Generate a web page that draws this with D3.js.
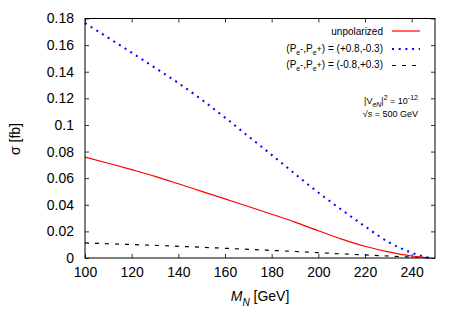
<!DOCTYPE html>
<html>
<head>
<meta charset="utf-8">
<script src="https://cdn.jsdelivr.net/npm/d3@7"></script>
<style>
  body { margin: 0; background: #fff; }
  text { font-family: "Liberation Sans", Arial, sans-serif; fill: #000; }
</style>
</head>
<body>
<div id="chart"></div>
<script>
const massValues = [100, 110, 120, 130, 140, 150, 160, 170, 180, 190, 200, 210, 220, 230, 240, 245, 248];
const unpolarized = [0.0758, 0.0712, 0.0664, 0.0614, 0.0558, 0.0501, 0.0444, 0.0387, 0.0329, 0.027, 0.0205, 0.0142, 0.0088, 0.0046, 0.0015, 0.0005, 0];
const polPlus = [0.1765, 0.1655, 0.1543, 0.143, 0.1315, 0.119, 0.1055, 0.0915, 0.0775, 0.0632, 0.0492, 0.0362, 0.0238, 0.012, 0.004, 0.0012, 0];
const polMinus = [0.0113, 0.0107, 0.0101, 0.0095, 0.0088, 0.0081, 0.0073, 0.0065, 0.0057, 0.0049, 0.004, 0.0031, 0.0023, 0.0015, 0.0007, 0.0003, 0];
const xTicks = [100, 120, 140, 160, 180, 200, 220, 240];
const yTicks = [0, 0.02, 0.04, 0.06, 0.08, 0.1, 0.12, 0.14, 0.16, 0.18];

function main() {
  const width = 463;
  const height = 324;
  const left = 85, right = 435, top = 18.5, bottom = 258;

  const svg = d3
    .select("#chart")
    .append("svg")
    .attr("width", width)
    .attr("height", height);

  const x = d3.scaleLinear().domain([100, 250]).range([left, right]);
  const y = d3.scaleLinear().domain([0, 0.18]).range([bottom, top]);

  // ticks (mirrored on all four sides, pointing inward)
  const tickLen = 4;
  svg.append("g")
    .attr("transform", `translate(0,${bottom})`)
    .call(d3.axisBottom(x).tickValues(xTicks).tickSize(-tickLen).tickPadding(7).tickFormat(d3.format("d")))
    .call((g) => g.select(".domain").remove())
    .call((g) => g.selectAll("text").attr("font-size", 14).attr("dy", "0.85em"));
  svg.append("g")
    .attr("transform", `translate(0,${top})`)
    .call(d3.axisTop(x).tickValues(xTicks).tickSize(-tickLen).tickFormat(""))
    .call((g) => g.select(".domain").remove());
  svg.append("g")
    .attr("transform", `translate(${left},0)`)
    .call(d3.axisLeft(y).tickValues(yTicks).tickSize(-tickLen).tickPadding(11).tickFormat((d) => (d === 0 ? "0" : String(+d.toFixed(2)))))
    .call((g) => g.select(".domain").remove())
    .call((g) => g.selectAll("text").attr("font-size", 14));
  svg.append("g")
    .attr("transform", `translate(${right},0)`)
    .call(d3.axisRight(y).tickValues(yTicks).tickSize(-tickLen).tickFormat(""))
    .call((g) => g.select(".domain").remove());
  svg.selectAll(".tick line").attr("stroke", "#000").attr("stroke-width", 0.8);
  svg.selectAll(".tick text").attr("fill", "#000").attr("font-family", "Liberation Sans, Arial, sans-serif");

  const line = (vals) =>
    d3.line()
      .x((d, i) => x(massValues[i]))
      .y((d) => y(d))
      .curve(d3.curveMonotoneX)(vals);

  svg.append("path").attr("d", line(polMinus)).attr("fill", "none")
    .attr("stroke", "#000").attr("stroke-width", 1.2).attr("stroke-dasharray", "4,6");
  svg.append("path").attr("d", line(polPlus)).attr("fill", "none")
    .attr("stroke", "#0000ff").attr("stroke-width", 2).attr("stroke-dasharray", "2,4.7");
  svg.append("path").attr("d", line(unpolarized)).attr("fill", "none")
    .attr("stroke", "#ff0000").attr("stroke-width", 1.2);

  // border
  svg.append("rect")
    .attr("x", left).attr("y", top)
    .attr("width", right - left).attr("height", bottom - top)
    .attr("fill", "none").attr("stroke", "#000").attr("stroke-width", 1);

  // legend
  const legend = [
    { y: 31, color: "#ff0000", dash: null, w: 1.2 },
    { y: 49, color: "#0000ff", dash: "2,4.7", w: 2 },
    { y: 65.5, color: "#000", dash: "4,6", w: 1.2 }
  ];
  legend.forEach((d) => {
    svg.append("line").attr("x1", 392).attr("x2", 420).attr("y1", d.y).attr("y2", d.y)
      .attr("stroke", d.color).attr("stroke-width", d.w).attr("stroke-dasharray", d.dash);
  });

  svg.append("text").attr("x", 383).attr("y", 34.5).attr("text-anchor", "end")
    .attr("font-size", 10).text("unpolarized");

  function polText(yPos, values) {
    const t = svg.append("text").attr("x", 383).attr("y", yPos).attr("text-anchor", "end").attr("font-size", 10);
    t.append("tspan").text("(P");
    t.append("tspan").attr("dy", 3).attr("font-size", 7).text("e");
    t.append("tspan").attr("dy", -3).attr("font-size", 9).text("-");
    t.append("tspan").text(",P");
    t.append("tspan").attr("dy", 3).attr("font-size", 7).text("e");
    t.append("tspan").attr("dy", -3).attr("font-size", 9).text("+");
    t.append("tspan").text(") = " + values);
  }
  polText(51.5, "(+0.8,-0.3)");
  polText(68, "(-0.8,+0.3)");

  const ann = svg.append("text").attr("x", 418).attr("y", 104).attr("text-anchor", "end").attr("font-size", 9);
  ann.append("tspan").text("|V");
  ann.append("tspan").attr("dy", 2.5).attr("font-size", 7).attr("font-style", "italic").text("eN");
  ann.append("tspan").attr("dy", -2.5).text("|");
  ann.append("tspan").attr("dy", -4).attr("font-size", 7).text("2");
  ann.append("tspan").attr("dy", 4).text(" = 10");
  ann.append("tspan").attr("dy", -4).attr("font-size", 7).text("-12");

  const rs = svg.append("text").attr("x", 418).attr("y", 117).attr("text-anchor", "end").attr("font-size", 9);
  rs.append("tspan").text("\u221A");
  rs.append("tspan").attr("font-style", "italic").text("s");
  rs.append("tspan").text(" = 500 GeV");

  // axis labels
  svg.append("text")
    .attr("transform", "translate(20,139) rotate(-90)")
    .attr("text-anchor", "middle").attr("font-size", 14)
    .text("\u03C3 [fb]");

  const xl = svg.append("text").attr("x", 260).attr("y", 301).attr("text-anchor", "middle").attr("font-size", 14);
  xl.append("tspan").attr("font-style", "italic").text("M");
  xl.append("tspan").attr("dy", 5).attr("font-size", 10).attr("font-style", "italic").text("N");
  xl.append("tspan").attr("dy", -5).text(" [GeV]");
}

main();
</script>
</body>
</html>
